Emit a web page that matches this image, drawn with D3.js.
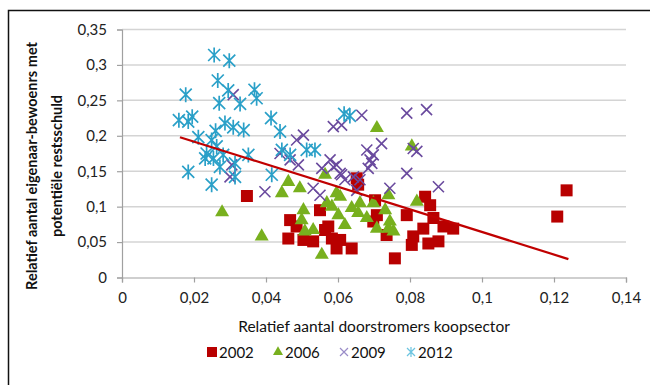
<!DOCTYPE html>
<html>
<head>
<meta charset="utf-8">
<script src="https://cdn.jsdelivr.net/npm/d3@7"></script>
<style>
  body { margin: 0; background: #fff; }
  text { font-family: Lato, "Open Sans", sans-serif; }
</style>
</head>
<body>
<div id="chart"></div>
<script>
// ---- data ----
const xTicks = [0, 0.02, 0.04, 0.06, 0.08, 0.1, 0.12, 0.14];
const yTicks = [0, 0.05, 0.1, 0.15, 0.2, 0.25, 0.3, 0.35];
const seriesNames = ["2002", "2006", "2009", "2012"];

const x2002 = [0.0347, 0.0467, 0.0462, 0.0485, 0.0504, 0.0531, 0.0550, 0.0564, 0.0583, 0.0606, 0.0638, 0.0596,
  0.0652, 0.0656, 0.0703, 0.0708, 0.0735, 0.0758, 0.0791, 0.0809, 0.0805, 0.0842, 0.0856, 0.0865, 0.0837,
  0.0879, 0.0893, 0.0920, 0.0851, 0.0573, 0.0698, 0.1235, 0.1209];
const y2002 = [0.115, 0.081, 0.055, 0.072, 0.053, 0.051, 0.095, 0.067, 0.055, 0.053, 0.041, 0.041,
  0.140, 0.131, 0.109, 0.088, 0.060, 0.027, 0.088, 0.058, 0.046, 0.114, 0.102, 0.084, 0.069,
  0.051, 0.072, 0.069, 0.048, 0.072, 0.079, 0.123, 0.086];

const x2006 = [0.0388, 0.0444, 0.0462, 0.0494, 0.0504, 0.0499, 0.0531, 0.0508, 0.0555, 0.0564, 0.0606, 0.0583,
  0.0601, 0.0619, 0.0638, 0.0656, 0.0661, 0.0680, 0.0698, 0.0708, 0.0731, 0.0744, 0.0754, 0.0740, 0.0819,
  0.0596, 0.0569, 0.0278, 0.0708, 0.0805, 0.0740];
const y2006 = [0.058, 0.119, 0.135, 0.126, 0.095, 0.081, 0.067, 0.065, 0.032, 0.145, 0.114, 0.100,
  0.088, 0.074, 0.098, 0.091, 0.105, 0.084, 0.105, 0.069, 0.095, 0.079, 0.065, 0.116, 0.107,
  0.119, 0.105, 0.092, 0.211, 0.185, 0.069];

const x2009 = [0.0791, 0.0846, 0.0666, 0.0587, 0.0610, 0.0504, 0.0721, 0.0680, 0.0819, 0.0809, 0.0689, 0.0684,
  0.0791, 0.0879, 0.0744, 0.0578, 0.0587, 0.0606, 0.0619, 0.0643, 0.0555, 0.0531, 0.0550, 0.0467, 0.0490,
  0.0661, 0.0652, 0.0309, 0.0397, 0.0439, 0.0305, 0.0300, 0.0485, 0.0698, 0.0596, 0.0610, 0.0694];
const y2009 = [0.232, 0.237, 0.229, 0.213, 0.215, 0.201, 0.189, 0.180, 0.178, 0.182, 0.166, 0.154,
  0.147, 0.128, 0.126, 0.166, 0.156, 0.147, 0.138, 0.142, 0.154, 0.126, 0.116, 0.166, 0.159,
  0.138, 0.123, 0.258, 0.121, 0.175, 0.159, 0.142, 0.194, 0.173, 0.159, 0.145, 0.161];

const x2012 = [0.0256, 0.0298, 0.0266, 0.0177, 0.0368, 0.0374, 0.0295, 0.0270, 0.0328, 0.0158, 0.0195, 0.0184,
  0.0286, 0.0309, 0.0338, 0.0260, 0.0414, 0.0439, 0.0212, 0.0249, 0.0263, 0.0235, 0.0254, 0.0231, 0.0281,
  0.0351, 0.0314, 0.0272, 0.0184, 0.0314, 0.0249, 0.0416, 0.0617, 0.0633, 0.0513, 0.0536, 0.0467, 0.0444];
const y2012 = [0.314, 0.306, 0.278, 0.258, 0.265, 0.253, 0.264, 0.246, 0.245, 0.222, 0.227, 0.220,
  0.218, 0.212, 0.208, 0.207, 0.225, 0.206, 0.198, 0.194, 0.185, 0.175, 0.168, 0.168, 0.173,
  0.173, 0.161, 0.156, 0.149, 0.142, 0.131, 0.145, 0.231, 0.228, 0.180, 0.180, 0.173, 0.180];

// trend line end points
const trendX = [0.0161, 0.124];
const trendY = [0.198, 0.026];

// ---- layout ----
const W = 650, H = 385;
const plotLeft = 122, plotRight = 626, plotTop = 29.5, plotBottom = 277.5;

const svg = d3.select("#chart").append("svg")
  .attr("width", W)
  .attr("height", H);

// outer frame
svg.append("rect")
  .attr("x", 8.5).attr("y", 10.5)
  .attr("width", 700).attr("height", 500)
  .attr("fill", "#fff")
  .attr("stroke", "#111")
  .attr("stroke-width", 1.5);

let x = d3.scaleLinear().domain([0, 0.14]).range([plotLeft, plotRight]);
let y = d3.scaleLinear().domain([0, 0.35]).range([plotBottom, plotTop]);

let fmt = d => String(d).replace(".", ",");

// gridlines
svg.append("g").selectAll("line")
  .data(yTicks.filter(d => d > 0))
  .enter().append("line")
    .attr("x1", plotLeft).attr("x2", plotRight)
    .attr("y1", d => y(d)).attr("y2", d => y(d))
    .attr("stroke", "#d4d4d4")
    .attr("stroke-width", 1.5);

// axes
let xAxisGroup = svg.append("g")
  .attr("transform", `translate(0, ${plotBottom})`)
  .call(d3.axisBottom(x).tickValues(xTicks).tickSize(5).tickPadding(10).tickFormat(fmt));

let yAxisGroup = svg.append("g")
  .attr("transform", `translate(${plotLeft}, 0)`)
  .call(d3.axisLeft(y).tickValues(yTicks).tickSize(5).tickPadding(10).tickFormat(fmt));

[xAxisGroup, yAxisGroup].forEach(g => {
  g.select(".domain").attr("stroke", "#a0a0a0").attr("stroke-width", 1.2);
  g.selectAll(".tick line").attr("stroke", "#a0a0a0").attr("stroke-width", 1.2);
  g.selectAll(".tick text")
    .attr("font-size", "15px")
    .attr("fill", "#222")
    .style("font-family", "Lato, sans-serif");
});

// axis titles
svg.append("text")
  .attr("x", (plotLeft + plotRight) / 2)
  .attr("y", 332)
  .attr("text-anchor", "middle")
  .attr("font-size", "15.5px")
  .attr("fill", "#111")
  .text("Relatief aantal doorstromers koopsector");

let yTitle = svg.append("text")
  .attr("transform", "translate(0, 166) rotate(-90)")
  .attr("text-anchor", "middle")
  .attr("font-size", "14.5px")
  .attr("font-weight", "bold")
  .attr("fill", "#111");
yTitle.append("tspan").attr("x", 0).attr("y", 37).text("Relatief aantal eigenaar-bewoenrs met");
yTitle.append("tspan").attr("x", 0).attr("y", 62).text("potentiële restsschuld");

// ---- markers ----
const colors = ["#b80000", "#78b01e", "#6a4a9e", "#2aa0c8"];

function squarePath(s) { return d3.symbol(d3.symbolSquare, s * s)(); }
function trianglePath(s) { return d3.symbol(d3.symbolTriangle, s * s * 0.433)(); }
function crossPath(r) { return `M${-r},${-r}L${r},${r}M${-r},${r}L${r},${-r}`; }
function starPath(r) { return crossPath(r) + `M0,${-r * 1.25}L0,${r * 1.25}`; }

function plotSeries(xs, ys, i) {
  let pts = xs.map((v, k) => ({ x: v, y: ys[k] }));
  let g = svg.append("g");
  let sel = g.selectAll("path").data(pts).enter().append("path")
    .attr("transform", d => `translate(${x(d.x)}, ${y(d.y)})`);
  if (i === 0) sel.attr("d", squarePath(12)).attr("fill", colors[0]);
  if (i === 1) sel.attr("d", trianglePath(14)).attr("fill", colors[1]);
  if (i === 2) sel.attr("d", crossPath(5.5)).attr("fill", "none").attr("stroke", colors[2]).attr("stroke-width", 1.6);
  if (i === 3) sel.attr("d", starPath(6)).attr("fill", "none").attr("stroke", colors[3]).attr("stroke-width", 1.7);
}

plotSeries(x2002, y2002, 0);
plotSeries(x2006, y2006, 1);
plotSeries(x2009, y2009, 2);
plotSeries(x2012, y2012, 3);

// trend line
svg.append("path")
  .datum(trendX.map((v, k) => [v, trendY[k]]))
  .attr("d", d3.line().x(d => x(d[0])).y(d => y(d[1])))
  .attr("fill", "none")
  .attr("stroke", "#c00000")
  .attr("stroke-width", 2.2);

// ---- legend ----
const legendX = [212, 278, 344, 411];
const legendY = 352;
let lg = svg.append("g");
seriesNames.forEach((name, i) => {
  let m = lg.append("path").attr("transform", `translate(${legendX[i]}, ${legendY})`);
  if (i === 0) m.attr("d", squarePath(10)).attr("fill", colors[0]);
  if (i === 1) m.attr("d", trianglePath(10)).attr("fill", colors[1]);
  if (i === 2) m.attr("d", crossPath(4)).attr("fill", "none").attr("stroke", "#9a8cc8").attr("stroke-width", 1.2);
  if (i === 3) m.attr("d", starPath(4)).attr("fill", "none").attr("stroke", "#6cc4e0").attr("stroke-width", 1.2);
  lg.append("text")
    .attr("x", legendX[i] + 7)
    .attr("y", legendY + 5.5)
    .attr("font-size", "15px")
    .attr("fill", "#111")
    .text(name);
});
</script>
</body>
</html>
